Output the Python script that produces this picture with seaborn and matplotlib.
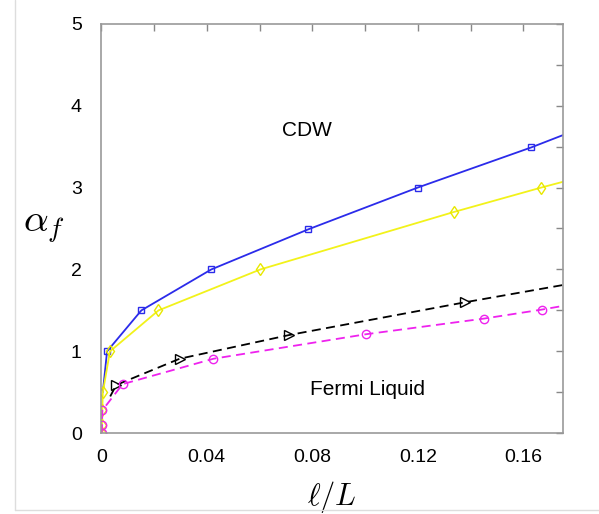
import numpy as np
import pandas as pd
import seaborn as sns
import matplotlib.pyplot as plt
from matplotlib.lines import Line2D

sns.set_theme(style="white")
plt.rcParams['font.family'] = ['Liberation Sans', 'DejaVu Sans']
plt.rcParams['mathtext.fontset'] = 'cm'
plt.rcParams['text.color'] = 'black'
plt.rcParams['axes.labelcolor'] = 'black'

# values
cdw_x = [0.0006, 0.0022, 0.0152, 0.0417, 0.0785, 0.120, 0.163, 0.175]
cdw_y = [0.50, 1.00, 1.50, 2.00, 2.49, 3.00, 3.49, 3.64]

yel_x = [0.0002, 0.0003, 0.0004, 0.0006, 0.0033, 0.0217, 0.0603, 0.1335, 0.1668, 0.175]
yel_y = [0.00, 0.10, 0.28, 0.50, 1.00, 1.50, 2.00, 2.70, 3.00, 3.07]

blk_x = [0.0034, 0.0057, 0.0297, 0.0713, 0.138, 0.175]
blk_y = [0.45, 0.59, 0.91, 1.20, 1.60, 1.81]

mag_x = [0.0002, 0.0003, 0.0004, 0.0081, 0.0425, 0.1005, 0.145, 0.167, 0.175]
mag_y = [0.00, 0.10, 0.28, 0.60, 0.91, 1.21, 1.40, 1.51, 1.555]

fig = plt.figure(figsize=(5.99, 5.14), dpi=100)
ax = fig.add_axes([0.169, 0.157, 0.771, 0.797])

sns.lineplot(x=cdw_x, y=cdw_y, ax=ax, color="#2b2bea", lw=1.3, marker="s", ms=4,
             mfc="none", mec="#2b2bea", mew=1, markevery=list(range(1, 7)), sort=False)
sns.lineplot(x=yel_x, y=yel_y, ax=ax, color="#f2f21a", lw=1.3, marker="d", ms=6,
             mfc="none", mec="#e8e800", mew=1, markevery=list(range(0, 9)), sort=False)
sns.lineplot(x=blk_x, y=blk_y, ax=ax, color="black", lw=1.3, ls=(0, (5, 3)), marker=">", ms=7,
             mfc="none", mec="black", mew=1, markevery=[1, 2, 3, 4], sort=False)
sns.lineplot(x=mag_x, y=mag_y, ax=ax, color="#ee22ee", lw=1.3, ls=(0, (5, 3)), marker="o", ms=6,
             mfc="none", mec="#ee22ee", mew=1, markevery=list(range(0, 8)), sort=False)

ax.set_xlim(0, 0.175)
ax.set_ylim(0, 5)
ax.set_xticks([0, 0.04, 0.08, 0.12, 0.16])
ax.set_xticklabels(["0", "0.04", "0.08", "0.12", "0.16"])
ax.set_xticks(np.arange(0, 0.175, 0.02), minor=True)
ax.set_yticks([0, 1, 2, 3, 4, 5])
ax.set_yticks(np.arange(0, 5.01, 0.5), minor=True)
ax.tick_params(which="both", direction="in", top=True, right=True, color="#888888",
               length=5, width=1, labelsize=14, labelcolor="black")
ax.tick_params(axis="y", pad=14)
ax.tick_params(axis="x", pad=11)
for s in ax.spines.values():
    s.set_color("#999999")
    s.set_linewidth(1.2)

ax.text(0.078, 3.7, "CDW", fontsize=15, ha="center", va="center")
ax.text(0.101, 0.53, "Fermi Liquid", fontsize=15, ha="center", va="center")

ax.set_xlabel(r"$\ell/L$", fontsize=22, labelpad=10)
ax.set_ylabel(r"$\alpha_f$", fontsize=28, rotation=0)
ax.yaxis.set_label_coords(-0.125, 0.46)

fig.add_artist(Line2D([15 / 599, 15 / 599], [4 / 514, 1], transform=fig.transFigure, color="#dddddd", lw=1))
fig.add_artist(Line2D([15 / 599, 1], [4 / 514, 4 / 514], transform=fig.transFigure, color="#dddddd", lw=1))

fig.savefig("out.png", dpi=100)
